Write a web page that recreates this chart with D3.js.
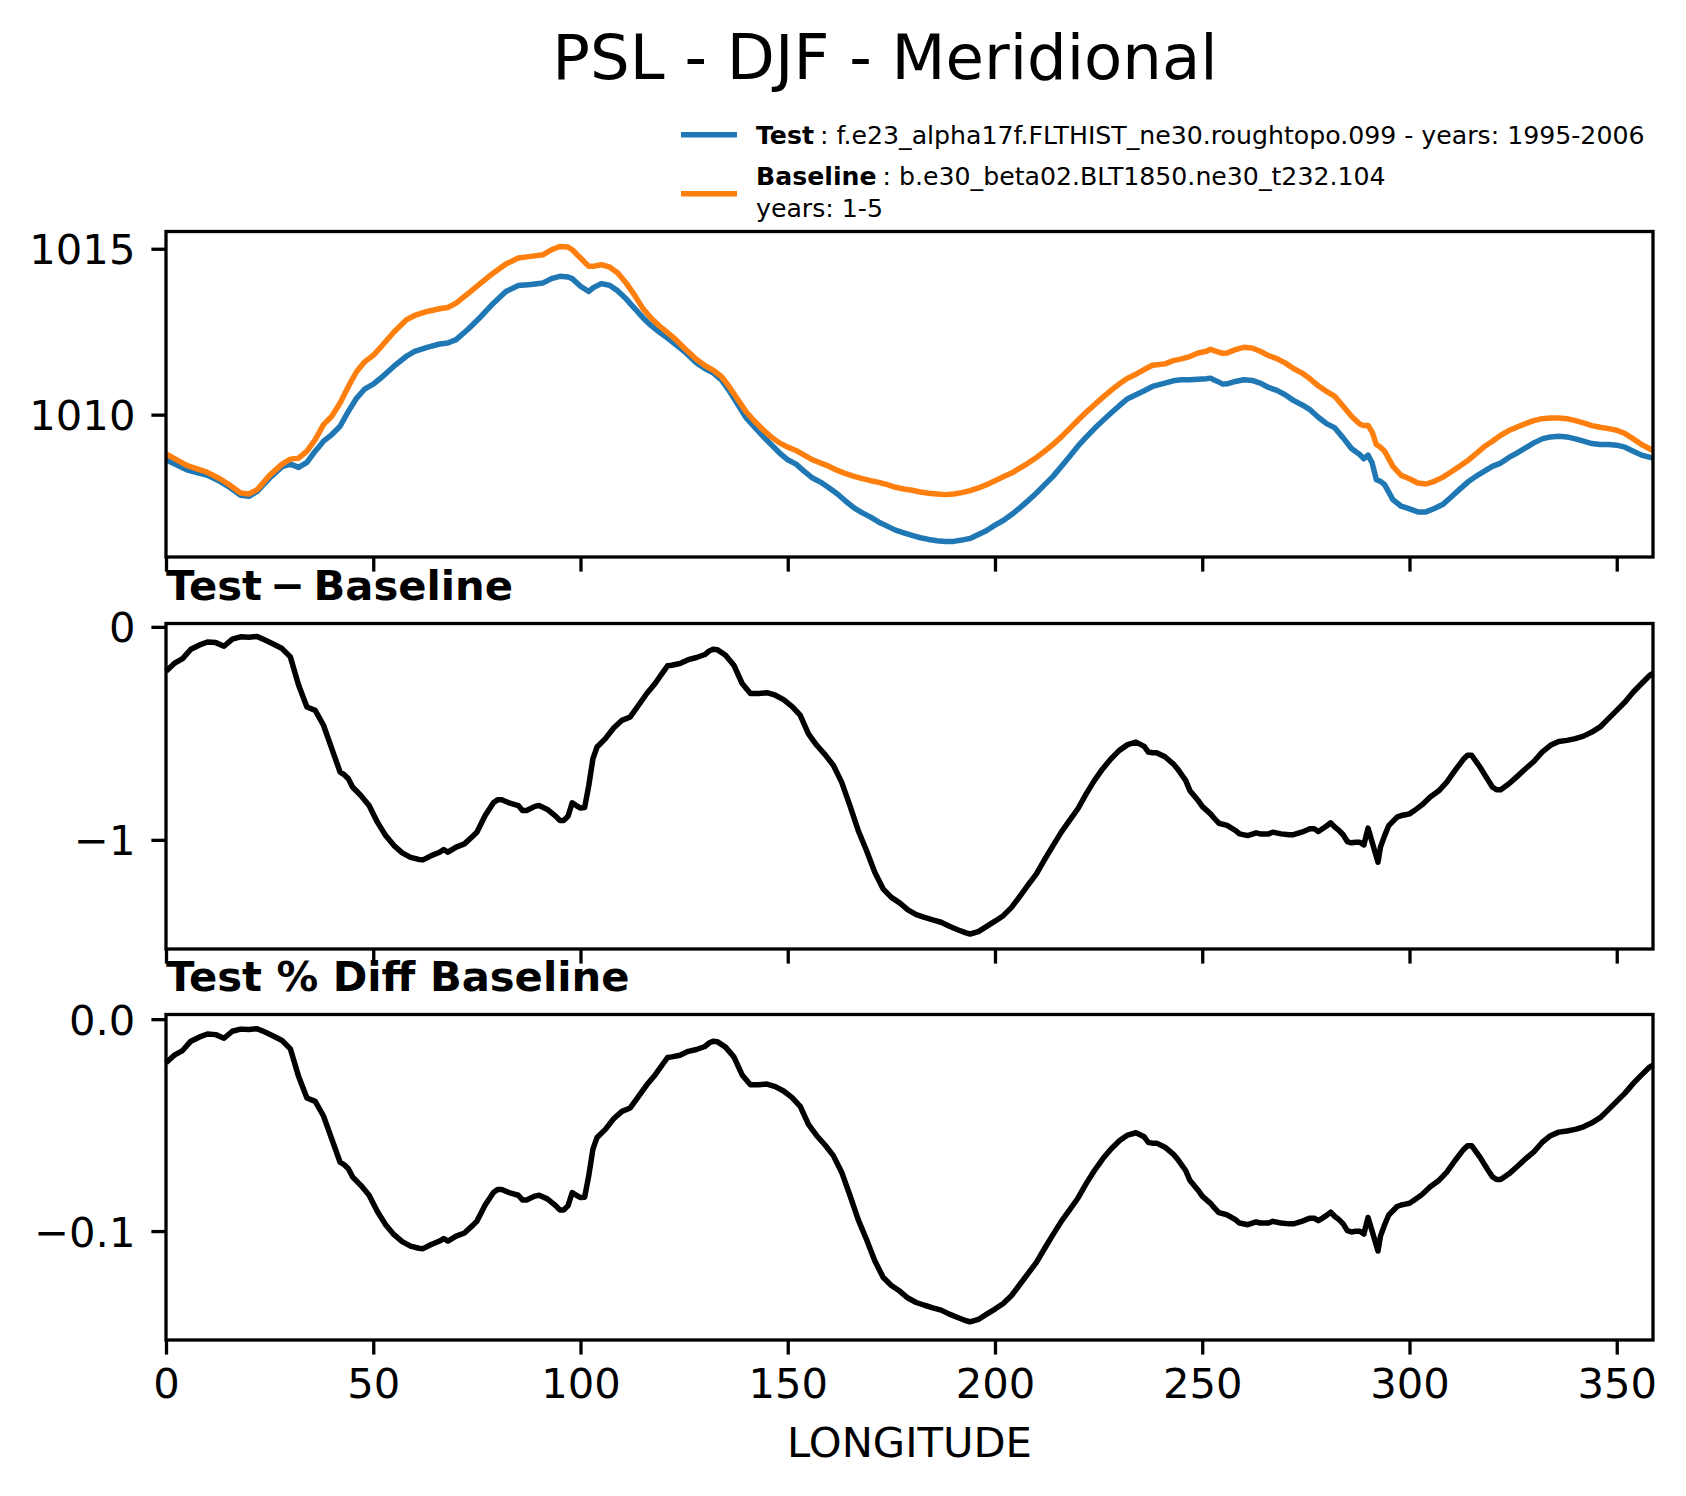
<!DOCTYPE html>
<html>
<head>
<meta charset="utf-8">
<script src="https://cdn.jsdelivr.net/npm/d3@7"></script>
<style>
  body { margin: 0; background: #fff; }
  svg { display: block; font-family: "DejaVu Sans", sans-serif; }
</style>
</head>
<body>
<svg id="chart" width="1686" height="1496"></svg>
<script>
// PSL - DJF - Meridional, three stacked panels sharing longitude

// top panel: meridional mean sea level pressure (hPa)
const lonPsl = [0, 5, 10, 13, 15, 18, 20, 22, 25, 28, 30, 32, 34, 36, 38, 40, 42, 44, 46, 48,
    50, 52, 55, 58, 60, 63, 66, 68, 70, 73, 76, 79, 82, 85, 88, 91, 93, 95, 97, 98,
    100, 102, 103, 105, 107, 109, 111, 113, 115, 117, 119, 121, 123, 125, 128, 130, 132, 134, 136, 138,
    140, 142, 144, 146, 148, 150, 152, 154, 156, 158, 160, 162, 164, 166, 168, 170, 172, 174, 176, 178,
    180, 182, 184, 186, 188, 190, 192, 194, 196, 198, 200, 202, 204, 206, 208, 210, 212, 214, 216, 218,
    220, 222, 224, 226, 228, 230, 232, 234, 236, 238, 241, 243, 245, 247, 249, 251, 252, 254, 255, 256,
    258, 260, 262, 264, 266, 268, 270, 272, 274, 276, 278, 280, 282, 284, 286, 288, 289, 290, 291, 292,
    293, 294, 296, 298, 300, 302, 304, 306, 308, 310, 312, 314, 316, 318, 320, 322, 324, 326, 328, 330,
    332, 334, 336, 338, 340, 342, 344, 346, 348, 350, 352, 354, 356, 358.75];

const testPsl = [1008.64, 1008.34, 1008.17, 1007.99, 1007.84, 1007.57, 1007.54, 1007.69, 1008.09, 1008.43,
    1008.51, 1008.41, 1008.56, 1008.90, 1009.20, 1009.40, 1009.65, 1010.10, 1010.50, 1010.78,
    1010.92, 1011.12, 1011.46, 1011.76, 1011.91, 1012.03, 1012.13, 1012.16, 1012.26, 1012.59,
    1012.96, 1013.36, 1013.71, 1013.89, 1013.92, 1013.97, 1014.10, 1014.17, 1014.15, 1014.10,
    1013.87, 1013.71, 1013.82, 1013.95, 1013.90, 1013.73, 1013.49, 1013.21, 1012.93, 1012.69,
    1012.49, 1012.31, 1012.11, 1011.91, 1011.56, 1011.39, 1011.26, 1011.05, 1010.70, 1010.30,
    1009.90, 1009.62, 1009.35, 1009.10, 1008.85, 1008.64, 1008.51, 1008.29, 1008.09, 1007.96,
    1007.79, 1007.61, 1007.39, 1007.19, 1007.04, 1006.91, 1006.76, 1006.64, 1006.52, 1006.44,
    1006.36, 1006.29, 1006.24, 1006.20, 1006.18, 1006.18, 1006.22, 1006.27, 1006.39, 1006.51,
    1006.67, 1006.81, 1006.99, 1007.19, 1007.41, 1007.64, 1007.89, 1008.14, 1008.44, 1008.74,
    1009.05, 1009.32, 1009.58, 1009.82, 1010.05, 1010.27, 1010.48, 1010.60, 1010.72, 1010.85,
    1010.95, 1011.02, 1011.05, 1011.05, 1011.07, 1011.08, 1011.10, 1010.98, 1010.92, 1010.93,
    1011.00, 1011.05, 1011.03, 1010.95, 1010.82, 1010.73, 1010.60, 1010.43, 1010.30, 1010.15,
    1009.92, 1009.73, 1009.60, 1009.30, 1008.98, 1008.80, 1008.67, 1008.78, 1008.54, 1008.04,
    1007.99, 1007.89, 1007.44, 1007.24, 1007.16, 1007.07, 1007.07, 1007.17, 1007.29, 1007.51,
    1007.74, 1007.96, 1008.14, 1008.29, 1008.44, 1008.54, 1008.71, 1008.85, 1009.00, 1009.15,
    1009.27, 1009.33, 1009.35, 1009.33, 1009.27, 1009.20, 1009.13, 1009.10, 1009.10, 1009.08,
    1009.02, 1008.90, 1008.78, 1008.69];

const basePsl = [1008.82, 1008.47, 1008.26, 1008.07, 1007.91, 1007.64, 1007.61, 1007.74, 1008.17, 1008.51,
    1008.66, 1008.69, 1008.90, 1009.25, 1009.70, 1009.95, 1010.35, 1010.85, 1011.30, 1011.60,
    1011.79, 1012.06, 1012.49, 1012.86, 1012.99, 1013.11, 1013.19, 1013.23, 1013.36, 1013.66,
    1013.97, 1014.27, 1014.54, 1014.72, 1014.77, 1014.82, 1014.97, 1015.07, 1015.05, 1014.97,
    1014.72, 1014.47, 1014.47, 1014.52, 1014.45, 1014.27, 1013.97, 1013.61, 1013.21, 1012.91,
    1012.68, 1012.47, 1012.26, 1012.01, 1011.66, 1011.48, 1011.34, 1011.15, 1010.82, 1010.45,
    1010.08, 1009.80, 1009.55, 1009.33, 1009.15, 1009.02, 1008.92, 1008.78, 1008.64, 1008.54,
    1008.44, 1008.32, 1008.22, 1008.14, 1008.07, 1008.01, 1007.96, 1007.89, 1007.81, 1007.76,
    1007.72, 1007.67, 1007.63, 1007.61, 1007.59, 1007.61, 1007.65, 1007.71, 1007.79, 1007.89,
    1008.01, 1008.13, 1008.24, 1008.39, 1008.54, 1008.71, 1008.90, 1009.10, 1009.33, 1009.58,
    1009.83, 1010.07, 1010.30, 1010.52, 1010.73, 1010.93, 1011.10, 1011.22, 1011.36, 1011.49,
    1011.53, 1011.63, 1011.68, 1011.75, 1011.86, 1011.91, 1011.97, 1011.88, 1011.85, 1011.86,
    1011.96, 1012.03, 1012.01, 1011.91, 1011.78, 1011.69, 1011.56, 1011.39, 1011.26, 1011.08,
    1010.87, 1010.70, 1010.55, 1010.25, 1009.95, 1009.72, 1009.67, 1009.67, 1009.48, 1009.10,
    1009.02, 1008.90, 1008.44, 1008.17, 1008.07, 1007.94, 1007.91, 1007.99, 1008.11, 1008.27,
    1008.44, 1008.61, 1008.82, 1009.03, 1009.20, 1009.38, 1009.52, 1009.63, 1009.73, 1009.82,
    1009.88, 1009.90, 1009.90, 1009.88, 1009.82, 1009.75, 1009.67, 1009.62, 1009.58, 1009.53,
    1009.43, 1009.27, 1009.10, 1008.92];

// middle + bottom panels: Test - Baseline (hPa) and Test % Diff Baseline
const lonDiff = [0, 2, 4, 6, 8, 10, 12, 14, 16, 18, 20, 22, 24, 26, 28, 30, 32, 34, 36, 38,
    40, 42, 43, 44, 45, 47, 49, 51, 53, 55, 57, 59, 61, 62, 64, 66, 67, 68, 70, 72,
    74, 75, 77, 79, 80, 81, 83, 85, 86, 87, 89, 90, 92, 94, 95, 96, 97, 98, 99, 100,
    101, 102, 103, 104, 106, 108, 110, 112, 114, 116, 118, 120, 121, 122, 124, 126, 128, 130, 131, 132,
    133, 135, 137, 139, 141, 143, 145, 147, 149, 151, 153, 155, 157, 159, 161, 163, 165, 167, 169, 171,
    173, 175, 177, 179, 181, 183, 185, 187, 189, 191, 193, 194, 196, 198, 200, 202, 204, 206, 208, 210,
    212, 214, 216, 218, 220, 222, 224, 226, 228, 230, 232, 234, 236, 237, 238, 239, 241, 243, 244, 246,
    247, 249, 250, 252, 253, 254, 256, 258, 259, 261, 263, 264, 266, 267, 269, 271, 272, 274, 276, 277,
    278, 279, 280, 281, 282, 283, 284, 285, 286, 287, 288, 289, 290, 291, 292.4, 293, 294, 295, 297, 298,
    299, 300, 301, 303, 305, 307, 309, 311, 313, 314, 315, 317, 319, 320, 321, 322, 324, 326, 328, 330,
    332, 334, 336, 338, 340, 342, 344, 346, 348, 350, 352, 354, 356, 358, 358.75];

const diffPsl = [-0.208, -0.172, -0.149, -0.105, -0.086, -0.071, -0.074, -0.091, -0.058, -0.047,
    -0.049, -0.045, -0.063, -0.082, -0.102, -0.141, -0.274, -0.376, -0.392, -0.462,
    -0.572, -0.682, -0.694, -0.713, -0.752, -0.792, -0.839, -0.917, -0.980, -1.027,
    -1.061, -1.082, -1.092, -1.094, -1.074, -1.058, -1.045, -1.058, -1.034, -1.019,
    -0.983, -0.964, -0.886, -0.826, -0.812, -0.812, -0.828, -0.839, -0.862, -0.862,
    -0.843, -0.839, -0.857, -0.889, -0.909, -0.909, -0.889, -0.826, -0.839, -0.851,
    -0.848, -0.745, -0.619, -0.564, -0.525, -0.475, -0.439, -0.423, -0.368, -0.313,
    -0.266, -0.210, -0.183, -0.180, -0.172, -0.154, -0.144, -0.130, -0.114, -0.105,
    -0.107, -0.133, -0.180, -0.266, -0.313, -0.313, -0.309, -0.321, -0.342, -0.373,
    -0.415, -0.502, -0.556, -0.600, -0.650, -0.729, -0.839, -0.956, -1.050, -1.152,
    -1.230, -1.270, -1.296, -1.329, -1.351, -1.364, -1.376, -1.387, -1.406, -1.422,
    -1.437, -1.442, -1.431, -1.406, -1.382, -1.356, -1.317, -1.265, -1.212, -1.160,
    -1.092, -1.027, -0.964, -0.909, -0.854, -0.784, -0.721, -0.666, -0.619, -0.580,
    -0.553, -0.541, -0.561, -0.588, -0.591, -0.591, -0.610, -0.643, -0.666, -0.721,
    -0.768, -0.815, -0.843, -0.878, -0.901, -0.922, -0.932, -0.956, -0.972, -0.980,
    -0.967, -0.972, -0.972, -0.964, -0.972, -0.976, -0.976, -0.964, -0.948, -0.948,
    -0.961, -0.948, -0.935, -0.920, -0.940, -0.956, -0.976, -1.008, -1.014, -1.011,
    -1.011, -1.024, -0.945, -1.011, -1.105, -1.034, -0.980, -0.933, -0.893, -0.886,
    -0.882, -0.878, -0.865, -0.836, -0.799, -0.771, -0.729, -0.674, -0.622, -0.603,
    -0.603, -0.658, -0.721, -0.752, -0.765, -0.765, -0.737, -0.702, -0.666, -0.632,
    -0.588, -0.556, -0.538, -0.533, -0.525, -0.513, -0.494, -0.470, -0.431, -0.392,
    -0.353, -0.306, -0.266, -0.227, -0.219];

const pctPsl = [-0.0206, -0.0170, -0.0148, -0.0104, -0.0085, -0.0070, -0.0073, -0.0090, -0.0057, -0.0047,
    -0.0049, -0.0045, -0.0062, -0.0081, -0.0101, -0.0140, -0.0271, -0.0372, -0.0388, -0.0457,
    -0.0566, -0.0675, -0.0687, -0.0706, -0.0744, -0.0784, -0.0831, -0.0908, -0.0970, -0.1017,
    -0.1050, -0.1071, -0.1081, -0.1083, -0.1063, -0.1047, -0.1035, -0.1047, -0.1024, -0.1009,
    -0.0973, -0.0954, -0.0877, -0.0818, -0.0804, -0.0804, -0.0820, -0.0831, -0.0853, -0.0853,
    -0.0835, -0.0831, -0.0848, -0.0880, -0.0900, -0.0900, -0.0880, -0.0818, -0.0831, -0.0842,
    -0.0840, -0.0738, -0.0613, -0.0558, -0.0520, -0.0470, -0.0435, -0.0419, -0.0364, -0.0310,
    -0.0263, -0.0208, -0.0181, -0.0178, -0.0170, -0.0152, -0.0143, -0.0129, -0.0113, -0.0104,
    -0.0106, -0.0132, -0.0178, -0.0263, -0.0310, -0.0310, -0.0306, -0.0318, -0.0339, -0.0369,
    -0.0411, -0.0497, -0.0550, -0.0594, -0.0644, -0.0722, -0.0831, -0.0946, -0.1040, -0.1140,
    -0.1218, -0.1257, -0.1283, -0.1316, -0.1337, -0.1350, -0.1362, -0.1373, -0.1392, -0.1408,
    -0.1423, -0.1428, -0.1417, -0.1392, -0.1368, -0.1342, -0.1304, -0.1252, -0.1200, -0.1148,
    -0.1081, -0.1017, -0.0954, -0.0900, -0.0845, -0.0776, -0.0714, -0.0659, -0.0613, -0.0574,
    -0.0547, -0.0536, -0.0555, -0.0582, -0.0585, -0.0585, -0.0604, -0.0637, -0.0659, -0.0714,
    -0.0760, -0.0807, -0.0835, -0.0869, -0.0892, -0.0913, -0.0923, -0.0946, -0.0962, -0.0970,
    -0.0957, -0.0962, -0.0962, -0.0954, -0.0962, -0.0966, -0.0966, -0.0954, -0.0939, -0.0939,
    -0.0951, -0.0939, -0.0926, -0.0911, -0.0931, -0.0946, -0.0966, -0.0998, -0.1004, -0.1001,
    -0.1001, -0.1014, -0.0936, -0.1001, -0.1094, -0.1024, -0.0970, -0.0924, -0.0884, -0.0877,
    -0.0873, -0.0869, -0.0856, -0.0828, -0.0791, -0.0763, -0.0722, -0.0667, -0.0616, -0.0597,
    -0.0597, -0.0651, -0.0714, -0.0744, -0.0757, -0.0757, -0.0730, -0.0695, -0.0659, -0.0626,
    -0.0582, -0.0550, -0.0533, -0.0528, -0.0520, -0.0508, -0.0489, -0.0465, -0.0427, -0.0388,
    -0.0349, -0.0303, -0.0263, -0.0225, -0.0217];

const xTicks = [0, 50, 100, 150, 200, 250, 300, 350];
const legendNames = ["Test", "Baseline"];
const legendCases = ["f.e23_alpha17f.FLTHIST_ne30.roughtopo.099 - years: 1995-2006",
    "b.e30_beta02.BLT1850.ne30_t232.104"];
const baselineYears = "years: 1-5";

const TEST_COLOR = "#1f77b4";
const BASE_COLOR = "#ff7f0e";
const LEFT = 166, RIGHT = 1653, PANEL_H = 325.5;
const TICK_LEN = 14.6, SPINE_W = 3.3, LINE_W = 5.5;
const LABEL_SIZE = "41.7px";
const MINUS = "\u2212";

const svg = d3.select("#chart");

const xScale = d3.scaleLinear()
    .domain([0, 358.75])
    .range([LEFT, RIGHT]);


function drawPanel(top, yDomain, yTicks, yFormat, showXLabels) {
    const g = svg.append("g");
    const yScale = d3.scaleLinear()
        .domain(yDomain)
        .range([top + PANEL_H, top]);

    // x axis (ticks outward, labels only on the bottom panel)
    const xAxis = d3.axisBottom(xScale)
        .tickValues(xTicks)
        .tickSize(TICK_LEN)
        .tickPadding(14)
        .tickFormat(showXLabels ? d3.format("d") : "");
    const gx = g.append("g")
        .attr("transform", "translate(0," + (top + PANEL_H) + ")")
        .call(xAxis);

    const yAxis = d3.axisLeft(yScale)
        .tickValues(yTicks)
        .tickSize(TICK_LEN)
        .tickPadding(16)
        .tickFormat(d => yFormat(d).replace("-", MINUS));
    const gy = g.append("g")
        .attr("transform", "translate(" + LEFT + ",0)")
        .call(yAxis);

    [gx, gy].forEach(a => {
        a.select(".domain").remove();
        a.selectAll(".tick line").attr("stroke", "#000").attr("stroke-width", SPINE_W);
        a.selectAll(".tick text")
            .attr("fill", "#000")
            .style("font-family", "DejaVu Sans")
            .style("font-size", LABEL_SIZE);
    });
    gx.selectAll(".tick text").attr("dy", "0.71em");
    gy.selectAll(".tick text").attr("dy", "0.36em");

    return {g: g, yScale: yScale, top: top};
}


function drawFrame(panel) {
    panel.g.append("rect")
        .attr("x", LEFT)
        .attr("y", panel.top)
        .attr("width", RIGHT - LEFT)
        .attr("height", PANEL_H)
        .attr("fill", "none")
        .attr("stroke", "#000")
        .attr("stroke-width", SPINE_W);
}


function drawSeries(panel, lons, values, color) {
    const line = d3.line()
        .x((d, i) => xScale(lons[i]))
        .y(d => panel.yScale(d));
    panel.g.append("path")
        .datum(values)
        .attr("fill", "none")
        .attr("stroke", color)
        .attr("stroke-width", LINE_W)
        .attr("stroke-linejoin", "round")
        .attr("stroke-linecap", "butt")
        .attr("d", line);
}


function drawPanelTitle(panel, text) {
    svg.append("text")
        .attr("x", LEFT)
        .attr("y", panel.top - 24)
        .style("font-size", LABEL_SIZE)
        .style("font-weight", "bold")
        .text(text);
}


// figure title
svg.append("text")
    .attr("x", 885)
    .attr("y", 79)
    .attr("text-anchor", "middle")
    .style("font-size", "62.5px")
    .text("PSL - DJF - Meridional");

// top panel
const pslPanel = drawPanel(231.5, [1005.71, 1015.52], [1010, 1015], d3.format("d"), false);
drawSeries(pslPanel, lonPsl, testPsl, TEST_COLOR);
drawSeries(pslPanel, lonPsl, basePsl, BASE_COLOR);
drawFrame(pslPanel);

// difference panel (mathtext-style minus, tighter than a spaced glyph)
const diffPanel = drawPanel(623.5, [-1.5125, 0.0157], [-1, 0], d3.format("d"), false);
drawSeries(diffPanel, lonDiff, diffPsl, "#000");
drawFrame(diffPanel);
drawPanelTitle(diffPanel, "Test\u2009" + MINUS + "\u2009Baseline");

// percent difference panel
const pctPanel = drawPanel(1014.5, [-0.1514, 0.0022], [-0.1, 0], d3.format(".1f"), true);
drawSeries(pctPanel, lonDiff, pctPsl, "#000");
drawFrame(pctPanel);
drawPanelTitle(pctPanel, "Test % Diff Baseline");

// x label
svg.append("text")
    .attr("x", (LEFT + RIGHT) / 2)
    .attr("y", 1457)
    .attr("text-anchor", "middle")
    .style("font-size", LABEL_SIZE)
    .text("LONGITUDE");

// legend
const legendRows = [
    {lineY: 134.7, textY: 144.3, color: TEST_COLOR},
    {lineY: 193.7, textY: 185, color: BASE_COLOR}
];
legendRows.forEach((row, i) => {
    svg.append("line")
        .attr("x1", 681).attr("x2", 737)
        .attr("y1", row.lineY).attr("y2", row.lineY)
        .attr("stroke", row.color)
        .attr("stroke-width", LINE_W);
    const t = svg.append("text")
        .attr("x", 756)
        .attr("y", row.textY)
        .style("font-size", "25.2px");
    t.append("tspan").style("font-weight", "bold").text(legendNames[i]);
    t.append("tspan").attr("dx", 6).text(": " + legendCases[i]);
});
svg.append("text")
    .attr("x", 756)
    .attr("y", 217.3)
    .style("font-size", "25.2px")
    .text(baselineYears);
</script>
</body>
</html>
